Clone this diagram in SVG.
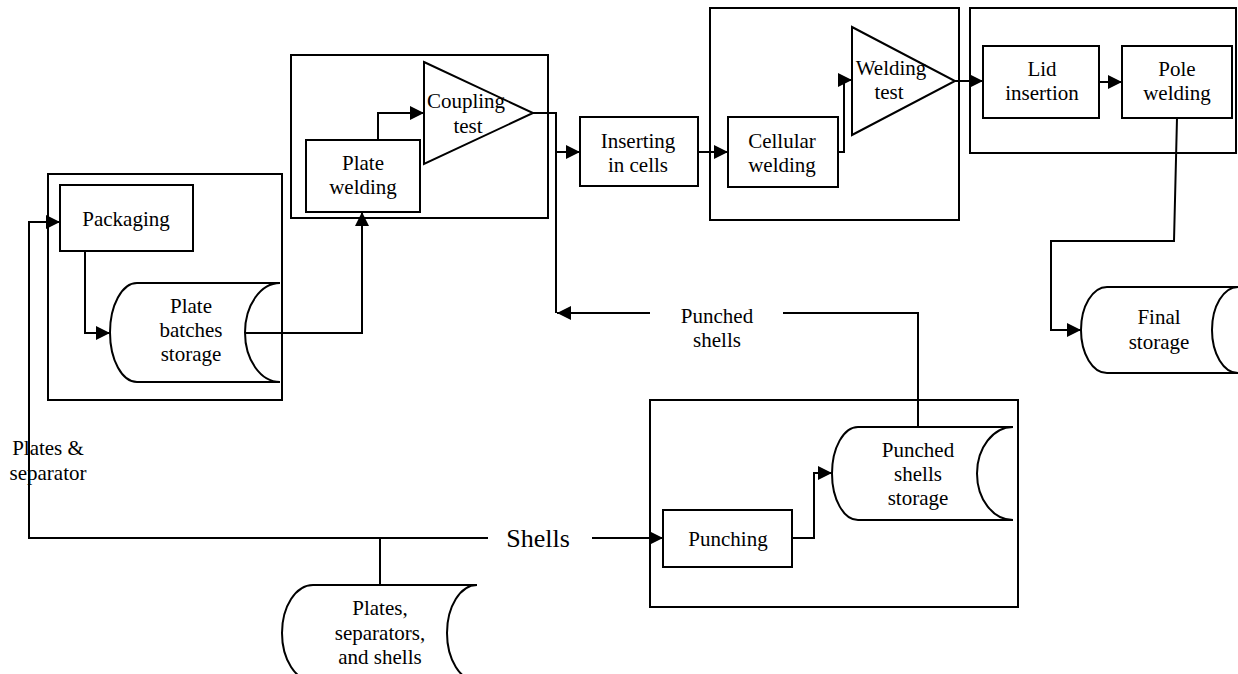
<svg xmlns="http://www.w3.org/2000/svg" width="1238" height="674" viewBox="0 0 1238 674" font-family="'Liberation Serif', 'Times New Roman', serif">
<defs>
<marker id="ah" markerWidth="14" markerHeight="14" refX="14" refY="7" orient="auto" markerUnits="userSpaceOnUse">
<path d="M0,0 L14,7 L0,14 Z" fill="#000"/>
</marker>
<style>
.frame{fill:none;stroke:#000;stroke-width:2}
.box{fill:#fff;stroke:#000;stroke-width:2}
.shape{fill:none;stroke:#000;stroke-width:2}
.ln{fill:none;stroke:#000;stroke-width:2}
.arr{fill:none;stroke:#000;stroke-width:2;marker-end:url(#ah)}
text{font-family:'Liberation Serif','Times New Roman',serif;font-size:21px;fill:#000;text-anchor:middle}
.big{font-size:26px}
</style>
</defs>
<rect width="1238" height="674" fill="#fff"/>

<g id="frames">
<rect class="frame" x="48" y="174" width="234" height="226"/>
<rect class="frame" x="291" y="55" width="257" height="163"/>
<rect class="frame" x="710" y="8" width="249" height="212"/>
<rect class="frame" x="970" y="8" width="266" height="145"/>
<rect class="frame" x="650" y="400" width="368" height="207"/>
</g>

<g id="connectors">
<path class="ln" d="M29,426 V538 H488 M380,538 V585 M29,497 V426"/>
<path class="arr" d="M29,426 V222 H60"/>
<path class="arr" d="M85,251 V333 H110"/>
<path class="arr" d="M245,333 H362 V212"/>
<path class="arr" d="M378,140 V113 H424"/>
<path class="arr" d="M533,113 H556 V152 H580"/>
<path class="ln" d="M556,152 V313"/>
<path class="ln" d="M918,427 V313 H783"/>
<path class="arr" d="M650,313 H557"/>
<path class="arr" d="M698,152 H728"/>
<path class="arr" d="M838,152 H844 V80 H852"/>
<path class="arr" d="M955,81 H983"/>
<path class="arr" d="M1099,82 H1122"/>
<path class="arr" d="M1177,118 L1174,241 H1051 V330 H1081"/>
<path class="arr" d="M592,538 H663"/>
<path class="arr" d="M792,538 H814 V473 H832"/>
</g>

<g id="packaging">
<rect class="box" x="60" y="185" width="133" height="66"/>
<text x="126" y="226">Packaging</text>
</g>

<g id="plate-batches-storage">
<path class="shape" d="M137,283 H280 M137,382 H280 M137,283 A27,49.5 0 0 0 137,382 M280,283 A35,49.5 0 0 0 280,382"/>
<text x="191" y="313">Plate</text>
<text x="191" y="337">batches</text>
<text x="191" y="361">storage</text>
</g>

<g id="plate-welding">
<rect class="box" x="306" y="140" width="114" height="72"/>
<text x="363" y="170">Plate</text>
<text x="363" y="194">welding</text>
</g>

<g id="coupling-test">
<path class="shape" d="M424,62 L533,113 L424,164 Z"/>
<text x="466" y="108">Coupling</text>
<text x="468" y="133">test</text>
</g>

<g id="inserting-in-cells">
<rect class="box" x="580" y="117" width="118" height="69"/>
<text x="638" y="148">Inserting</text>
<text x="638" y="172">in cells</text>
</g>

<g id="cellular-welding">
<rect class="box" x="728" y="117" width="110" height="70"/>
<text x="782" y="148">Cellular</text>
<text x="782" y="172">welding</text>
</g>

<g id="welding-test">
<path class="shape" d="M852,27 L955,81 L852,135 Z"/>
<text x="891" y="75">Welding</text>
<text x="889" y="99">test</text>
</g>

<g id="lid-insertion">
<rect class="box" x="983" y="46" width="116" height="72"/>
<text x="1042" y="76">Lid</text>
<text x="1042" y="100">insertion</text>
</g>

<g id="pole-welding">
<rect class="box" x="1122" y="46" width="110" height="72"/>
<text x="1177" y="76">Pole</text>
<text x="1177" y="100">welding</text>
</g>

<g id="final-storage">
<path class="shape" d="M1107,287 H1238 M1107,373 H1238 M1107,287 A26,43 0 0 0 1107,373 M1238,287 A26,43 0 0 0 1238,373"/>
<text x="1159" y="324">Final</text>
<text x="1159" y="349">storage</text>
</g>

<g id="punched-shells-label">
<text x="717" y="323">Punched</text>
<text x="717" y="347">shells</text>
</g>

<g id="punching">
<rect class="box" x="663" y="510" width="129" height="57"/>
<text x="728" y="546">Punching</text>
</g>

<g id="punched-shells-storage">
<path class="shape" d="M858,427 H1013 M858,520 H1013 M858,427 A26,46.5 0 0 0 858,520 M1013,427 A36,46.5 0 0 0 1013,520"/>
<text x="918" y="457">Punched</text>
<text x="918" y="481">shells</text>
<text x="918" y="505">storage</text>
</g>

<g id="plates-separator-label">
<text x="48" y="455">Plates &amp;</text>
<text x="48" y="480">separator</text>
</g>

<g id="shells-label">
<text class="big" x="538" y="547">Shells</text>
</g>

<g id="plates-separators-shells">
<path class="shape" d="M313,585 H477 M313,585 A31,48 0 0 0 313,681 M477,585 A30,48 0 0 0 477,681"/>
<text x="380" y="615">Plates,</text>
<text x="380" y="640">separators,</text>
<text x="380" y="664">and shells</text>
</g>
</svg>
